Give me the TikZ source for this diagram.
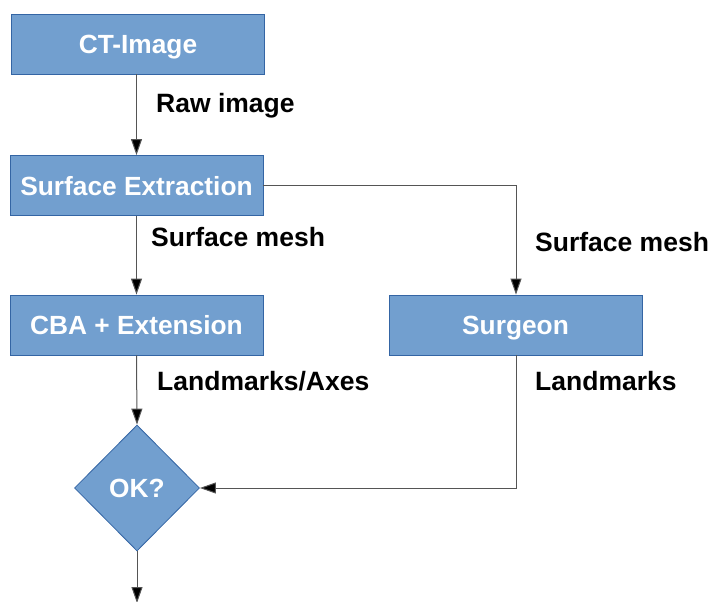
\documentclass[tikz,border=0pt]{standalone}
\usepackage{fontspec}
\setmainfont{Liberation Sans}
\usetikzlibrary{shapes.geometric,arrows.meta}
\definecolor{boxfill}{HTML}{729FCF}
\definecolor{boxline}{HTML}{3465A4}
\definecolor{conn}{HTML}{555555}
\tikzset{
  procbox/.style={draw=boxline, fill=boxfill, line width=0.8pt, minimum width=253pt, minimum height=60pt, inner sep=0pt, text height=19pt, text depth=0pt, text=white, font=\fontsize{26.3}{30}\selectfont\bfseries},
  decbox/.style={diamond, draw=boxline, fill=boxfill, line width=0.8pt, minimum width=125pt, minimum height=126pt, inner sep=0pt, aspect=1, text height=19pt, text depth=0pt, text=white, font=\fontsize{26.3}{30}\selectfont\bfseries},
  lbl/.style={anchor=base west, inner sep=0pt, font=\fontsize{26.5}{30}\selectfont\bfseries},
  conn/.style={draw=conn, line width=1pt, -{Triangle[length=16pt,width=11pt,fill=black]}},
  plainconn/.style={draw=conn, line width=1pt}
}
\begin{document}
\begin{tikzpicture}[x=1pt,y=-1pt]
\useasboundingbox (0,0) rectangle (710,602);
\node[procbox] (ct) at (138,44) {CT-Image};
\node[procbox] (se) at (136.5,185.5) {Surface Extraction};
\node[procbox] (cba) at (136.5,325) {CBA + Extension};
\node[procbox] (sg) at (515.5,325) {Surgeon};
\node[decbox] (ok) at (137,488) {OK?};
\coordinate (c1) at (516,185.5);
\coordinate (c2) at (516,488);
\coordinate (out) at (137,603);
\draw[conn] (ct.south -| 136.5,0) -- (se.north);
\draw[conn] (se.south) -- (cba.north);
\draw[conn] (cba.south) -- (ok.north);
\draw[conn] (se.east) -- (c1) -- (sg.north -| c1);
\draw[conn] (sg.south -| c2) -- (c2) -- (ok.east);
\draw[conn] (ok.south) -- (out);
\node[lbl] (l1) at (156,112) {Raw image};
\node[lbl] (l2) at (151,246.7) {Surface mesh};
\node[lbl] (l3) at (535,251) {Surface mesh};
\node[lbl] (l4) at (157,390) {Landmarks/Axes};
\node[lbl] (l5) at (535,390) {Landmarks};
\end{tikzpicture}
\end{document}
